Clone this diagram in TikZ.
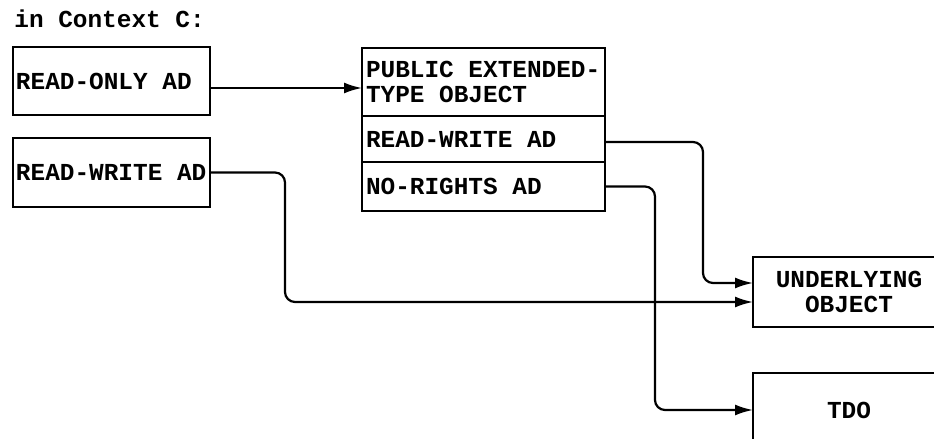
\documentclass[tikz,border=0pt]{standalone}
\usepackage{fontspec}
\newfontfamily\cfont{Liberation Mono}[WordSpace={1,0,0}]
\usetikzlibrary{arrows.meta, calc}

\begin{document}
\begin{tikzpicture}[x=0.5pt, y=0.5pt,
  txt/.style={font=\cfont\fontsize{12.2}{12.5}\selectfont\bfseries},
  box/.style={rectangle, draw, line width=1.2pt, inner sep=0pt, inner xsep=1.5pt, outer sep=0pt,
    anchor=north west, align=left, txt, execute at begin node={\spaceskip=0.6em\xspaceskip=0.6em\relax}},
  arr/.style={-{Latex[length=9pt,width=5.5pt]}, line width=1.1pt, rounded corners=5pt}
]
  \useasboundingbox (0,0) rectangle (934,-439);

  \node[txt, anchor=base west, inner sep=0pt] (ttl) at (14,-27) {in Context C:};

  % left side
  \node[box, minimum width=98.5pt, minimum height=34pt, text width=95.5pt] (ro)  at (13,-47)  {READ-ONLY AD};
  \node[box, minimum width=98.5pt, minimum height=34.5pt, text width=95.5pt] (rwl) at (13,-138) {READ-WRITE AD};

  % extended-type object
  \node[box, inner xsep=2pt, minimum width=121.5pt, minimum height=34pt, text width=117.5pt] (pub) at (362,-48)  {PUBLIC EXTENDED-\\TYPE OBJECT};
  \node[box, inner xsep=2pt, minimum width=121.5pt, minimum height=23pt, text width=117.5pt] (rwm) at (362,-116) {READ-WRITE AD};
  \node[box, inner xsep=2pt, minimum width=121.5pt, minimum height=24.5pt, text width=117.5pt] (nr)  at (362,-162) {NO-RIGHTS AD};

  % right side
  \node[box, align=center, minimum width=96pt, minimum height=35pt, text width=93pt] (und) at (753,-257) {UNDERLYING\\OBJECT};
  \node[box, align=center, minimum width=96pt, minimum height=37pt, text width=93pt] (tdo) at (753,-373) {TDO};

  \draw[arr] ($(ro.east)+(0,-7)$) -- ($(pub.west |- ro.east)+(0,-7)$);
  \draw[arr] (rwl.east) -- ++(75,0) |- ($(und.west)+(0,-10)$);
  \draw[arr] ($(rwm.east)+(0,-3)$) -- ++(98,0) |- ($(und.west)+(0,9)$);
  \draw[arr] (nr.east) -- ++(50,0) |- (tdo.west);
\end{tikzpicture}
\end{document}
